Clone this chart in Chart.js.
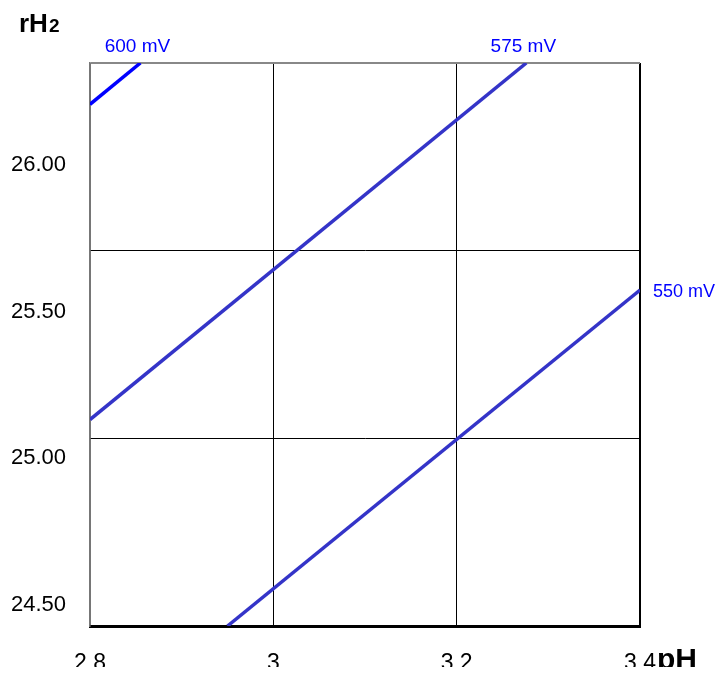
<!DOCTYPE html>
<html>
<head>
<meta charset="utf-8">
<script src="https://cdn.jsdelivr.net/npm/chart.js@4/dist/chart.umd.min.js"></script>
<style>
  html, body { margin: 0; padding: 0; background: #fff; overflow: hidden; }
  #wrap { width: 719px; height: 667px; overflow: hidden; }
</style>
</head>
<body>
<div id="wrap"><canvas id="rhChart"></canvas></div>
<script>
// valeurs
const seriesNames = ['600 mV', '575 mV', '550 mV'];
const pH600 = [2.8, 2.855];
const rH600 = [25.89, 26.0];
const pH575 = [2.8, 3.276];
const rH575 = [25.05, 26.0];
const pH550 = [2.95, 3.4];
const rH550 = [24.5, 25.395];
const xTicks = [2.8, 3, 3.2, 3.4];
const yTicks = [24.5, 25, 25.5, 26];

const FONT = "'Liberation Sans', Arial, sans-serif";

function pts(xs, ys) {
    return xs.map(function(x, i) { return { x: x, y: ys[i] }; });
}

// étiquettes des courbes + titres des axes
const labelsPlugin = {
    id: 'labelsPlugin',
    afterDatasetsDraw: function(chart) {
        const ctx = chart.ctx;
        const xs = chart.scales.x, ys = chart.scales.y;
        const where = ['above', 'above', 'right'];
        ctx.save();
        ctx.fillStyle = '#0000ff';
        chart.data.datasets.forEach(function(ds, i) {
            const last = ds.data[ds.data.length - 1];
            const px = xs.getPixelForValue(last.x);
            const py = ys.getPixelForValue(last.y);
            if (where[i] === 'above') {
                ctx.font = '19px ' + FONT;
                ctx.textAlign = 'center';
                ctx.textBaseline = 'alphabetic';
                ctx.fillText(ds.label, px - 3, py - 11);
            } else {
                ctx.font = '18px ' + FONT;
                ctx.textAlign = 'left';
                ctx.textBaseline = 'middle';
                ctx.fillText(ds.label, px + 13, py + 2);
            }
        });
        ctx.fillStyle = '#000';
        ctx.textAlign = 'left';
        ctx.textBaseline = 'alphabetic';
        ctx.font = 'bold 26px ' + FONT;
        ctx.fillText('rH', 19, 32);
        const w = ctx.measureText('rH').width;
        ctx.font = 'bold 19px ' + FONT;
        ctx.fillText('2', 19 + w + 1, 32);
        ctx.font = 'bold 30px ' + FONT;
        ctx.fillText('pH', 657, 669);
        ctx.restore();
    }
};

new Chart(document.getElementById('rhChart'), {
    type: 'scatter',
    data: {
        datasets: [{
            label: seriesNames[0],
            data: pts(pH600, rH600),
            borderColor: '#0000ff',
            borderWidth: 3.5
        }, {
            label: seriesNames[1],
            data: pts(pH575, rH575),
            borderColor: '#3434c8',
            borderWidth: 3.5
        }, {
            label: seriesNames[2],
            data: pts(pH550, rH550),
            borderColor: '#3434c8',
            borderWidth: 3.5
        }]
    },
    options: {
        responsive: true,
        maintainAspectRatio: false,
        animation: false,
        showLine: true,
        elements: { point: { radius: 0, hoverRadius: 0 } },
        layout: { padding: { top: 63, right: 79, left: 0, bottom: 0 } },
        plugins: {
            legend: { display: false },
            tooltip: { enabled: false }
        },
        scales: {
            x: {
                type: 'linear',
                min: 2.8,
                max: 3.4,
                afterBuildTicks: function(s) { s.ticks = xTicks.map(function(v) { return { value: v }; }); },
                afterFit: function(s) { s.height = 41; },
                border: { display: true, color: '#000', width: 3 },
                grid: {
                    drawTicks: false,
                    color: function(c) { return c.index === 0 ? '#777' : '#000'; },
                    lineWidth: function(c) { return c.index === xTicks.length - 1 ? 2 : 1; }
                },
                ticks: {
                    color: '#000',
                    padding: 24,
                    maxRotation: 0,
                    font: { family: FONT, size: 23 },
                    callback: function(v) { return String(Number(v)); }
                }
            },
            y: {
                type: 'linear',
                min: 24.5,
                max: 26.0,
                weight: 0,
                afterBuildTicks: function(s) { s.ticks = yTicks.map(function(v) { return { value: v }; }); },
                afterFit: function(s) { s.width = 0; },
                border: { display: true, color: '#777', width: 1.5 },
                grid: {
                    drawTicks: false,
                    color: function(c) { return c.index === yTicks.length - 1 ? '#888' : '#000'; },
                    lineWidth: function(c) { return c.index === yTicks.length - 1 ? 2 : 1; }
                },
                ticks: { display: false }
            },
            // axe des étiquettes (décalées comme sur l'original)
            yLab: {
                type: 'linear',
                position: 'left',
                min: 24.428,
                max: 26.348,
                weight: 1,
                afterBuildTicks: function(s) { s.ticks = yTicks.map(function(v) { return { value: v }; }); },
                afterFit: function(s) { s.width = 90; },
                border: { display: false },
                grid: { display: false, drawTicks: false },
                ticks: {
                    color: '#000',
                    padding: 24,
                    font: { family: FONT, size: 22 },
                    callback: function(v) { return Number(v).toFixed(2); }
                }
            }
        }
    },
    plugins: [labelsPlugin]
});
</script>
</body>
</html>
